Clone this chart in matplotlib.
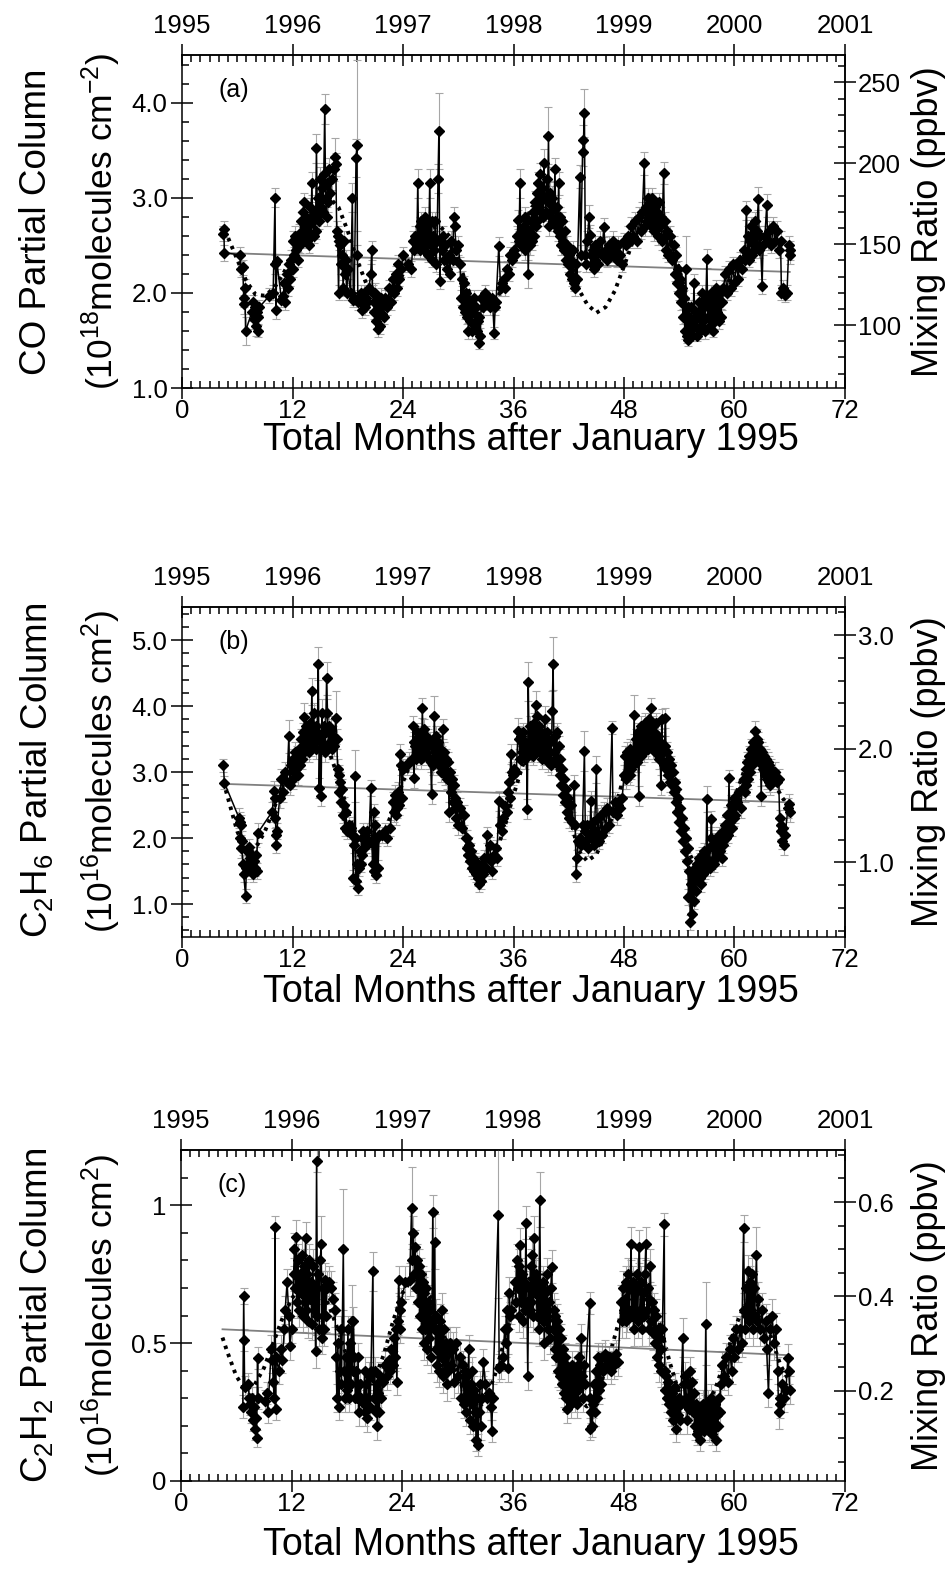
import matplotlib
matplotlib.use("Agg")
import matplotlib.pyplot as plt
from matplotlib.ticker import MultipleLocator, FixedLocator, FuncFormatter

plt.rcParams['font.family'] = ['Liberation Sans', 'DejaVu Sans']
plt.rcParams['mathtext.fontset'] = 'custom'
plt.rcParams['mathtext.rm'] = 'Liberation Sans'
plt.rcParams['mathtext.it'] = 'Liberation Sans:italic'
plt.rcParams['mathtext.bf'] = 'Liberation Sans:bold'

# ---------------- data ----------------
years = [1995, 1996, 1997, 1998, 1999, 2000, 2001]

# (a) CO partial column, 1e18 molecules cm^-2 : (month, value, error)
co_obs = [
 (4.5,2.62,.08),(4.55,2.67,.08),(4.6,2.42,.08),
 (6.3,2.40,.08),(6.4,2.25,.08),(6.6,2.27,.08),(6.7,1.95,.1),(6.75,1.88,.1),(6.85,2.05,.1),(6.9,1.60,.15),
 (7.6,1.80,.1),(7.7,1.90,.08),(7.8,1.72,.1),(7.9,1.85,.08),(8.0,1.65,.1),(8.1,1.80,.08),(8.2,1.60,.06),(8.3,1.75,.08),(8.4,1.85,.08),
 (9.5,1.97,.08),(9.9,2.00,.08),(10.1,3.00,.1),(10.15,2.30,.1),(10.2,1.82,.1),(10.3,2.33,.08),
 (10.8,1.93,.08),(11.0,1.97,.08),(11.1,2.10,.1),(11.2,1.90,.08),(11.4,2.20,.1),(11.5,2.05,.08),(11.6,2.30,.1),(11.7,2.15,.08),(11.8,2.35,.1),(12.0,2.25,.08),
 (12.1,2.55,.1),(12.2,2.40,.08),(12.3,2.60,.1),(12.4,2.45,.08),(12.5,2.55,.1),(12.6,2.35,.08),(12.7,2.62,.1),(12.8,2.50,.08),(12.9,2.75,.1),(13.0,2.55,.08),
 (13.1,2.85,.12),(13.2,2.60,.08),(13.3,2.95,.1),(13.4,2.65,.08),(13.5,2.80,.1),(13.6,2.55,.08),(13.7,2.70,.1),(13.8,2.50,.08),(13.9,2.90,.1),(14.0,2.60,.08),
 (14.1,3.15,.12),(14.2,2.75,.1),(14.3,2.60,.08),(14.4,2.85,.1),(14.5,2.65,.08),(14.6,3.52,.15),(14.7,2.80,.1),(14.8,3.00,.1),(14.9,2.75,.08),(15.0,3.20,.12),
 (15.1,2.90,.1),(15.2,3.10,.1),(15.3,2.85,.1),(15.4,3.25,.12),(15.5,3.93,.16),(15.6,3.00,.1),(15.7,2.80,.1),(15.8,3.15,.12),(15.9,2.95,.1),(16.0,3.30,.12),
 (16.1,3.05,.1),(16.3,3.20,.12),(16.5,3.30,.12),(16.6,3.43,.2),(16.7,3.35,.12),(16.8,2.65,.1),(16.9,2.60,.1),(17.0,2.00,.08),(17.1,2.55,.1),(17.2,2.50,.1),
 (17.3,2.30,.1),(17.4,2.40,.1),(17.5,2.05,.08),(17.6,2.55,.1),(17.7,2.20,.1),(17.8,2.35,.1),(17.9,2.00,.08),(18.0,2.25,.1),
 (18.3,2.00,.08),(18.5,3.00,.15),(18.6,1.93,.08),(18.7,1.95,.08),(18.9,3.42,.2),(19.0,3.55,.9),(19.05,2.40,.1),(19.1,1.90,.08),
 (19.3,1.95,.08),(19.4,2.00,.08),(19.5,1.82,.08),(19.6,1.95,.08),(19.7,1.88,.08),(19.8,2.00,.08),(19.9,1.85,.08),(20.0,1.95,.08),(20.1,1.90,.08),(20.3,2.05,.08),
 (20.5,2.20,.1),(20.6,2.45,.1),(20.7,2.00,.08),(20.8,1.90,.08),(20.9,1.80,.08),(21.0,2.00,.1),(21.1,1.70,.08),(21.2,1.90,.08),(21.3,1.62,.08),(21.4,1.85,.08),
 (21.5,1.65,.08),(21.6,1.95,.1),(21.7,1.78,.08),(21.8,1.90,.08),(21.9,1.75,.08),(22.0,1.95,.08),
 (22.3,1.85,.08),(22.5,2.05,.08),(22.7,1.90,.08),(22.9,2.15,.08),(23.0,2.00,.08),(23.2,2.20,.08),(23.3,2.05,.08),(23.5,2.30,.1),(23.6,2.15,.08),(23.8,2.25,.08),(24.0,2.40,.08),
 (24.5,2.30,.08),(24.9,2.25,.08),(25.1,2.55,.1),(25.2,2.45,.08),(25.3,2.60,.1),(25.5,2.50,.1),(25.6,3.15,.15),(25.7,2.55,.1),(25.8,2.70,.1),(25.9,2.45,.08),
 (26.0,2.75,.1),(26.1,2.50,.08),(26.2,2.65,.1),(26.3,2.45,.08),(26.4,2.80,.1),(26.5,2.55,.08),(26.6,2.70,.1),(26.7,2.40,.08),(26.8,2.60,.1),(26.9,3.15,.15),
 (27.0,2.50,.1),(27.1,2.75,.1),(27.2,2.35,.08),(27.3,2.60,.1),(27.4,2.45,.08),(27.5,2.75,.1),(27.6,2.30,.08),(27.7,2.55,.1),(27.8,3.20,.15),(27.9,3.70,.4),
 (28.0,2.12,.08),(28.1,2.55,.1),(28.2,2.45,.08),(28.3,2.60,.1),(28.4,2.35,.08),(28.6,2.50,.1),(28.8,2.25,.08),(29.0,2.40,.1),(29.1,2.20,.08),(29.2,2.55,.1),
 (29.4,2.35,.08),(29.5,2.80,.1),(29.6,2.70,.1),(29.8,2.45,.08),(30.0,2.50,.1),
 (30.2,2.30,.08),(30.3,1.95,.08),(30.4,2.15,.08),(30.5,1.85,.08),(30.6,2.10,.08),(30.7,1.80,.08),(30.8,2.00,.08),(30.9,1.75,.08),(31.0,1.95,.08),(31.1,1.60,.08),
 (31.2,1.85,.08),(31.3,1.70,.08),(31.4,1.90,.08),(31.5,1.60,.08),(31.6,1.80,.08),(31.7,1.95,.08),(31.8,1.65,.08),(31.9,1.85,.08),(32.0,1.60,.08),(32.1,1.70,.08),
 (32.2,1.47,.06),(32.3,1.75,.08),(32.4,1.55,.08),(32.5,1.95,.08),
 (32.7,1.85,.08),(32.9,2.00,.08),(33.1,1.90,.08),(33.3,1.95,.08),(33.5,1.85,.08),(33.7,1.95,.08),(33.9,1.58,.06),(34.0,1.85,.08),(34.1,1.90,.08),
 (34.4,2.49,.1),(34.6,2.05,.08),(34.8,2.10,.08),(35.0,2.15,.08),(35.1,2.05,.08),(35.3,2.25,.08),(35.5,2.20,.08),(35.6,2.40,.08),(35.8,2.35,.08),(36.0,2.45,.08),(36.2,2.40,.08),
 (36.4,2.60,.1),(36.5,2.77,.1),(36.6,2.55,.1),(36.7,3.15,.15),(36.8,2.50,.1),(36.9,2.65,.1),(37.0,2.55,.1),(37.1,2.70,.1),(37.2,2.45,.1),(37.3,2.80,.1),
 (37.4,2.55,.1),(37.5,2.75,.1),(37.6,2.20,.15),(37.7,2.65,.1),(37.8,2.50,.1),(37.9,2.75,.1),(38.0,2.55,.1),(38.1,2.85,.1),(38.2,2.60,.1),(38.3,2.95,.12),
 (38.4,2.70,.1),(38.5,3.05,.12),(38.6,2.75,.1),(38.7,3.15,.12),(38.8,2.90,.1),(38.9,3.25,.12),(39.0,2.85,.1),(39.1,3.10,.12),(39.2,2.80,.1),(39.3,3.36,.15),
 (39.4,3.00,.12),(39.5,2.85,.1),(39.6,3.20,.12),(39.7,2.95,.1),(39.8,3.65,.3),(39.9,2.70,.1),(40.0,3.05,.12),(40.1,2.80,.1),(40.2,3.00,.12),(40.3,2.75,.1),
 (40.4,2.90,.1),(40.5,3.30,.12),(40.6,2.70,.1),(40.7,2.90,.1),(40.8,2.65,.1),(40.9,3.15,.12),(41.0,2.60,.1),(41.1,2.80,.1),(41.2,2.50,.1),(41.3,2.75,.1),
 (41.4,2.55,.1),(41.5,2.45,.1),(41.6,2.65,.1),(41.7,2.35,.08),(41.8,2.50,.1),(41.9,2.30,.08),(42.0,2.40,.08),(42.1,2.20,.08),(42.2,2.35,.08),(42.3,2.15,.08),
 (42.4,2.30,.08),(42.5,2.45,.1),(42.6,2.10,.08),(42.7,2.05,.08),(42.8,2.30,.08),(42.9,2.15,.08),
 (43.2,3.22,.12),(43.3,2.40,.1),(43.5,3.48,.15),(43.6,3.61,.15),(43.7,3.89,.25),(43.8,2.40,.1),(43.9,2.30,.08),(44.0,2.55,.1),
 (44.2,2.80,.12),(44.3,2.61,.1),(44.4,2.40,.08),(44.5,2.30,.08),(44.6,2.45,.1),(44.7,2.25,.08),(44.8,2.50,.1),(44.9,2.35,.08),(45.0,2.45,.1),(45.2,2.30,.08),
 (45.4,2.55,.1),(45.6,2.40,.08),(45.8,2.69,.1),(46.0,2.45,.1),(46.2,2.35,.08),(46.4,2.50,.1),(46.6,2.40,.08),(46.8,2.55,.1),(47.0,2.45,.08),(47.2,2.35,.08),
 (47.4,2.50,.1),(47.6,2.40,.08),(47.8,2.30,.08),
 (48.0,2.55,.08),(48.2,2.50,.08),(48.4,2.60,.1),(48.6,2.55,.08),(48.8,2.70,.1),(49.0,2.60,.08),(49.2,2.75,.1),(49.4,2.55,.08),(49.6,2.80,.1),(49.8,2.65,.08),
 (50.0,2.85,.1),(50.2,3.36,.12),(50.3,2.70,.1),(50.4,2.90,.1),(50.5,2.75,.1),(50.6,3.00,.1),(50.7,2.80,.1),(50.8,2.95,.1),(50.9,2.70,.1),(51.0,3.00,.1),
 (51.1,2.75,.1),(51.2,2.95,.1),(51.3,2.65,.1),(51.4,2.90,.1),(51.5,2.75,.1),(51.6,2.85,.1),(51.7,2.60,.1),(51.8,2.95,.1),(51.9,2.70,.1),(52.0,2.80,.1),
 (52.1,2.55,.1),(52.3,3.26,.12),(52.4,2.60,.1),(52.5,2.75,.1),(52.6,2.45,.08),(52.7,2.65,.1),(52.8,2.40,.08),(53.0,2.60,.1),(53.2,2.35,.08),(53.4,2.50,.1),
 (53.5,2.20,.08),(53.6,2.40,.08),
 (53.8,2.10,.08),(53.9,2.25,.08),(54.0,2.00,.08),(54.1,2.15,.08),(54.2,1.90,.08),(54.3,2.05,.08),(54.4,1.75,.08),(54.5,1.95,.08),(54.6,1.60,.08),(54.7,2.25,.35),
 (54.8,1.55,.08),(54.9,1.85,.08),(55.0,1.50,.06),(55.1,1.75,.08),(55.2,1.60,.08),(55.3,1.85,.08),(55.4,1.55,.06),(55.5,1.70,.08),(55.6,2.10,.1),(55.7,1.65,.08),
 (55.8,1.80,.08),(55.9,1.55,.06),(56.0,1.75,.08),(56.1,1.90,.08),(56.2,1.60,.08),(56.3,1.80,.08),(56.4,1.65,.08),(56.5,2.00,.08),(56.6,1.70,.08),(56.7,1.85,.08),
 (56.8,1.60,.08),(56.9,1.95,.08),(57.0,2.36,.1),(57.1,1.75,.08),(57.2,1.90,.08),(57.3,1.65,.08),(57.4,2.00,.08),(57.5,1.75,.08),(57.6,1.85,.08),(57.7,1.60,.06),
 (57.8,1.95,.08),(57.9,1.70,.08),(58.0,2.05,.08),(58.1,1.80,.08),(58.2,1.95,.08),(58.3,1.70,.08),(58.4,2.00,.08),(58.5,1.75,.08),(58.6,1.90,.08),
 (58.8,2.05,.08),(59.0,2.20,.08),(59.2,2.00,.08),(59.4,2.25,.08),(59.6,2.05,.08),(59.8,2.30,.08),(60.0,2.10,.08),(60.2,2.30,.08),(60.4,2.15,.08),(60.6,2.35,.08),
 (60.8,2.25,.08),(61.0,2.45,.1),(61.1,2.35,.08),(61.3,2.87,.1),(61.4,2.40,.08),(61.5,2.60,.1),(61.6,2.35,.08),(61.7,2.55,.1),(61.8,2.70,.1),(61.9,2.40,.08),
 (62.0,2.60,.1),(62.1,2.45,.08),(62.2,2.75,.1),(62.3,2.50,.08),(62.4,2.65,.1),(62.6,2.99,.12),(62.7,2.45,.08),(62.8,2.60,.1),(63.0,2.07,.08),(63.1,2.50,.1),
 (63.3,2.60,.1),(63.5,2.92,.12),(63.6,2.55,.1),(63.8,2.65,.1),(64.0,2.50,.08),(64.2,2.70,.1),(64.4,2.55,.08),(64.6,2.65,.1),(64.8,2.45,.08),(65.0,2.55,.1),
 (65.1,2.00,.08),(65.3,2.05,.08),(65.5,1.98,.08),(65.7,2.00,.08),(65.9,2.50,.1),(66.0,2.40,.1),(66.05,2.45,.1),
]
co_month, co_value, co_error = map(list, zip(*co_obs))

fit_month = [4.5, 5, 6, 7, 8, 9, 10, 11, 12, 13, 14, 15, 16, 17, 18, 19, 20, 21, 22, 23, 24,
             25, 26, 27, 28, 29, 30, 31, 32, 33, 34, 35, 36, 37, 38, 39, 40, 41, 42, 43, 44,
             45, 46, 47, 48, 49, 50, 51, 52, 53, 54, 55, 56, 57, 58, 59, 60, 61, 62, 63, 64, 65, 66]
co_fit = [2.65, 2.58, 2.35, 2.12, 1.98, 1.97, 2.05, 2.2, 2.4, 2.6, 2.8, 2.95, 3.0, 2.9, 2.65, 2.35, 2.1, 1.95, 1.92, 2.0, 2.2,
          2.4, 2.55, 2.68, 2.7, 2.6, 2.35, 2.05, 1.85, 1.8, 1.9, 2.1, 2.4, 2.7, 2.9, 3.0, 2.95, 2.75, 2.45, 2.05, 1.88,
          1.79, 1.85, 2.02, 2.28, 2.55, 2.75, 2.85, 2.82, 2.6, 2.25, 1.9, 1.72, 1.72, 1.85, 2.05, 2.25, 2.45, 2.55, 2.55, 2.5, 2.45, 2.4]
trend_month = [4.5, 66.0]
co_trend = [2.42, 2.22]

# (b) C2H6 partial column, 1e16 molecules cm^-2
c2h6_obs = [
 (4.5,3.10,.1),(4.6,2.84,.1),
 (6.2,2.30,.15),(6.3,2.25,.15),(6.35,2.00,.15),(6.4,2.20,.15),(6.45,1.85,.15),(6.5,1.95,.15),(6.6,1.60,.15),(6.7,1.45,.12),(6.9,1.12,.1),
 (7.0,1.55,.12),(7.1,1.80,.12),(7.2,1.60,.12),(7.3,1.86,.12),(7.4,1.70,.12),(7.5,1.50,.12),(7.6,1.75,.12),(7.7,1.45,.12),(7.8,1.65,.12),(7.9,1.55,.12),(8.0,1.75,.12),(8.1,1.50,.12),(8.2,2.07,.15),
 (9.8,2.40,.15),(10.0,2.71,.15),(10.1,2.60,.15),(10.15,2.30,.15),(10.2,2.05,.12),(10.25,1.89,.12),(10.3,2.10,.12),
 (10.6,2.60,.15),(10.8,2.90,.15),(11.0,2.70,.15),(11.2,3.00,.15),(11.4,2.85,.15),(11.6,3.54,.25),(11.7,2.80,.15),(11.8,3.10,.15),(12.0,2.90,.15),
 (12.1,3.20,.15),(12.2,3.00,.15),(12.3,3.30,.15),(12.4,3.05,.15),(12.5,3.25,.15),(12.6,2.95,.15),(12.7,3.35,.15),(12.8,3.10,.15),(12.9,3.50,.15),(13.0,3.20,.15),
 (13.1,3.60,.15),(13.2,3.30,.15),(13.3,3.84,.2),(13.4,3.40,.15),(13.5,3.70,.15),(13.6,3.35,.15),(13.7,3.60,.15),(13.8,3.30,.15),(13.9,3.75,.15),(14.0,3.40,.15),
 (14.1,4.22,.2),(14.2,3.50,.15),(14.3,3.90,.15),(14.4,3.45,.15),(14.5,3.70,.15),(14.6,3.35,.15),(14.7,3.60,.15),(14.8,4.64,.25),(14.9,2.76,.15),(15.0,3.50,.15),
 (15.1,2.64,.15),(15.2,3.90,.2),(15.3,3.40,.15),(15.4,3.70,.15),(15.5,3.30,.15),(15.6,3.60,.15),(15.7,4.42,.25),(15.8,3.90,.2),(15.9,3.40,.15),(16.0,3.70,.15),
 (16.1,3.45,.15),(16.2,3.65,.15),(16.3,3.35,.15),(16.4,3.55,.15),(16.5,3.40,.15),(16.7,3.82,.4),(16.8,3.50,.15),(16.9,3.05,.15),(17.0,2.95,.15),(17.1,2.70,.15),
 (17.2,2.85,.15),(17.3,2.55,.15),(17.4,2.75,.15),(17.5,2.35,.12),(17.6,2.50,.12),(17.7,2.15,.12),(17.8,2.40,.12),(17.9,2.10,.12),
 (18.1,2.20,.12),(18.3,2.15,.12),(18.5,2.05,.12),(18.6,1.40,.12),(18.7,1.90,.12),(18.8,2.94,.4),(18.85,2.00,.12),(18.9,1.35,.1),(19.0,1.60,.12),(19.1,1.24,.1),
 (19.2,1.55,.12),(19.3,1.80,.12),(19.4,1.60,.12),(19.5,2.00,.12),(19.6,1.75,.12),(19.7,2.10,.12),(19.8,1.85,.12),(19.9,2.05,.12),(20.0,1.90,.12),(20.1,2.10,.12),
 (20.3,1.95,.12),(20.5,2.76,.12),(20.6,1.95,.12),(20.7,1.60,.12),(20.8,2.40,.12),(20.9,1.50,.12),(21.0,2.20,.12),(21.1,1.44,.12),(21.2,2.00,.12),(21.3,1.55,.12),(21.4,2.05,.12),
 (21.7,2.05,.12),(22.0,2.10,.12),(22.3,2.00,.12),(22.6,2.15,.12),(22.9,2.55,.15),(23.0,2.40,.15),(23.1,2.65,.15),(23.2,2.35,.15),(23.3,2.60,.15),(23.4,2.45,.15),
 (23.5,2.70,.15),(23.6,2.50,.15),(23.7,3.27,.15),(23.8,3.10,.15),(23.9,2.60,.15),(24.0,3.05,.15),
 (24.4,3.10,.15),(24.7,3.15,.15),(25.0,3.20,.15),(25.1,3.70,.15),(25.15,3.45,.15),(25.2,2.91,.15),(25.3,3.40,.15),(25.4,3.20,.15),(25.5,3.60,.15),(25.6,3.30,.15),
 (25.7,3.55,.15),(25.8,3.25,.15),(25.9,3.50,.15),(26.0,3.20,.15),(26.1,3.97,.15),(26.2,3.40,.15),(26.3,3.65,.15),(26.4,3.30,.15),(26.5,3.55,.15),(26.6,3.25,.15),
 (26.7,3.50,.15),(26.8,3.20,.15),(26.9,3.45,.15),(27.0,3.15,.15),(27.1,2.67,.15),(27.2,3.40,.15),(27.3,3.10,.15),(27.4,3.85,.3),(27.5,3.30,.15),(27.6,3.55,.15),
 (27.7,3.20,.15),(27.8,3.45,.15),(27.9,3.10,.15),(28.0,3.35,.15),(28.1,3.00,.15),(28.2,3.25,.15),(28.3,3.65,.15),(28.4,3.10,.15),(28.5,3.30,.15),(28.6,2.95,.15),
 (28.7,3.20,.15),(28.8,2.90,.15),(28.9,3.15,.15),(29.0,2.40,.15),(29.1,3.00,.15),(29.2,2.70,.15),(29.3,2.90,.15),(29.4,2.55,.15),(29.5,2.80,.15),(29.6,2.45,.15),
 (29.7,2.60,.15),(29.8,2.30,.15),(29.9,2.55,.15),(30.0,2.20,.15),(30.2,2.45,.15),(30.4,2.15,.15),(30.6,2.35,.15),(30.8,2.00,.12),(30.9,1.85,.12),(31.0,2.00,.12),
 (31.1,1.75,.12),(31.2,1.90,.12),(31.3,1.65,.12),(31.4,1.80,.12),(31.5,1.55,.12),(31.6,1.70,.12),(31.7,1.50,.12),(31.8,1.65,.12),(31.9,1.45,.12),(32.0,1.60,.12),
 (32.1,1.40,.12),(32.2,1.55,.12),(32.3,1.30,.12),(32.4,1.50,.12),(32.5,1.35,.12),(32.6,1.60,.12),(32.7,1.45,.12),(32.8,1.70,.12),(33.0,1.55,.12),(33.1,2.05,.12),
 (33.2,1.70,.12),(33.4,1.90,.12),(33.6,1.65,.12),(33.7,1.50,.12),(33.9,1.75,.12),(34.1,1.85,.12),(34.2,1.70,.12),
 (34.4,2.56,.15),(34.5,2.20,.12),(34.7,2.10,.12),(34.9,2.30,.12),(35.1,2.49,.15),(35.3,2.40,.15),(35.4,2.70,.15),(35.5,2.85,.15),(35.6,2.60,.15),(35.7,3.27,.15),
 (35.8,3.00,.15),(35.9,2.95,.15),(36.1,3.05,.15),(36.3,3.00,.15),(36.5,3.62,.2),(36.6,3.50,.15),(36.7,3.20,.15),(36.8,3.55,.15),(36.9,3.30,.15),(37.0,3.60,.15),
 (37.1,3.25,.15),(37.2,3.45,.15),(37.3,3.20,.15),(37.4,3.40,.15),(37.5,2.44,.15),(37.6,4.37,.3),(37.7,3.40,.15),(37.8,3.70,.15),(37.9,3.30,.15),(38.0,3.60,.15),
 (38.1,3.25,.15),(38.2,3.75,.15),(38.3,3.40,.15),(38.4,4.02,.2),(38.5,3.50,.15),(38.6,3.85,.2),(38.7,3.40,.15),(38.8,3.70,.15),(38.9,3.30,.15),(39.0,3.60,.15),
 (39.1,3.20,.15),(39.2,3.55,.15),(39.3,3.25,.15),(39.4,3.80,.2),(39.5,3.35,.15),(39.6,3.60,.15),(39.7,3.15,.15),(39.8,3.50,.15),(39.9,3.20,.15),(40.0,3.45,.15),
 (40.1,3.10,.15),(40.2,3.92,.3),(40.3,4.64,.4),(40.4,3.30,.15),(40.5,3.55,.15),(40.6,3.20,.15),(40.7,3.60,.15),(40.8,3.10,.15),(40.9,3.40,.15),(41.0,2.95,.15),
 (41.1,3.20,.15),(41.2,2.80,.15),(41.3,3.05,.15),(41.4,2.65,.15),(41.5,2.90,.15),(41.6,2.55,.15),(41.7,2.75,.15),(41.8,2.40,.15),(41.9,2.60,.15),(42.0,2.30,.15),
 (42.2,2.50,.15),(42.4,2.25,.15),(42.6,2.80,.15),(42.7,2.20,.15),(42.8,1.46,.12),(42.9,1.70,.12),(43.0,1.95,.12),(43.2,2.00,.12),(43.3,1.90,.12),(43.5,2.20,.15),
 (43.7,3.32,.3),(43.8,2.10,.15),(43.9,1.95,.12),(44.0,2.20,.15),(44.1,1.85,.12),(44.3,2.05,.12),(44.4,2.56,.15),(44.5,2.00,.12),(44.6,2.25,.15),(44.7,1.90,.12),
 (44.8,2.10,.12),(45.0,3.04,.2),(45.1,2.00,.12),(45.2,2.30,.15),(45.3,1.95,.12),(45.5,2.35,.15),(45.6,2.05,.12),(45.8,2.40,.15),(46.0,2.15,.12),(46.2,2.45,.15),
 (46.4,2.20,.12),(46.7,3.67,.1),(46.8,2.40,.15),(47.0,2.55,.15),(47.2,2.35,.15),(47.4,2.50,.15),(47.6,2.45,.15),(47.8,2.60,.15),
 (48.0,2.95,.15),(48.1,3.25,.15),(48.2,2.90,.15),(48.3,3.30,.15),(48.4,3.00,.15),(48.5,3.20,.15),(48.6,2.95,.15),(48.7,3.35,.15),(48.8,3.05,.15),(48.9,3.30,.15),
 (49.0,3.10,.15),(49.1,3.87,.3),(49.2,3.20,.15),(49.3,3.50,.15),(49.4,3.15,.15),(49.5,3.60,.15),(49.6,2.64,.15),(49.7,3.55,.15),(49.8,3.25,.15),(49.9,3.70,.15),
 (50.0,3.35,.15),(50.1,3.60,.15),(50.2,3.30,.15),(50.3,3.75,.15),(50.4,3.40,.15),(50.5,3.65,.15),(50.6,3.35,.15),(50.7,3.80,.15),(50.8,3.45,.15),(50.9,3.97,.15),
 (51.0,3.50,.15),(51.1,3.70,.15),(51.2,3.35,.15),(51.3,3.60,.15),(51.4,3.30,.15),(51.5,3.75,.15),(51.6,3.40,.15),(51.7,3.55,.15),(51.8,3.20,.15),(51.9,3.45,.15),
 (52.0,2.80,.15),(52.1,3.80,.15),(52.2,3.30,.15),(52.3,3.10,.15),(52.4,3.40,.15),(52.5,3.82,.15),(52.6,3.05,.15),(52.7,3.30,.15),(52.8,2.95,.15),(52.9,3.20,.15),
 (53.0,2.85,.15),(53.1,3.10,.15),(53.2,2.80,.15),(53.3,3.00,.15),(53.4,2.70,.15),(53.5,2.85,.15),(53.6,2.55,.15),(53.7,2.75,.15),(53.8,2.40,.15),(53.9,2.60,.15),
 (54.0,2.25,.15),(54.1,2.45,.15),(54.2,2.10,.15),(54.3,2.30,.15),(54.4,1.95,.12),(54.5,2.15,.12),(54.6,1.80,.12),(54.7,2.00,.12),(54.8,1.65,.12),(54.9,1.85,.12),
 (55.0,1.10,.12),(55.1,1.50,.12),(55.2,0.72,.12),(55.3,1.30,.12),(55.4,0.85,.12),(55.5,1.40,.12),(55.6,1.05,.12),(55.7,1.55,.12),(55.8,1.20,.12),(55.9,1.60,.12),
 (56.0,1.35,.12),(56.1,1.70,.12),(56.2,1.40,.12),(56.3,1.65,.12),(56.4,1.30,.12),(56.5,1.75,.12),(56.6,1.45,.12),(56.7,1.80,.12),(56.8,1.50,.12),(56.9,1.70,.12),
 (57.0,2.59,.2),(57.1,1.60,.12),(57.2,1.85,.12),(57.3,1.55,.12),(57.4,2.00,.12),(57.5,2.29,.12),(57.6,1.65,.12),(57.7,1.90,.12),(57.8,1.60,.12),(57.9,1.95,.12),
 (58.0,1.70,.12),(58.1,2.00,.12),(58.2,1.75,.12),(58.3,2.05,.12),(58.4,1.80,.12),(58.5,1.95,.12),(58.6,1.70,.12),(58.7,2.10,.12),(58.8,1.90,.12),(59.0,2.20,.12),
 (59.1,2.00,.12),(59.2,2.35,.12),(59.3,2.05,.12),(59.4,2.91,.12),(59.5,2.25,.12),(59.6,2.50,.15),(59.7,2.15,.12),(59.8,2.45,.15),(59.9,2.30,.12),(60.0,2.60,.15),
 (60.1,2.35,.12),(60.3,2.55,.15),(60.5,2.70,.15),(60.7,2.45,.15),(60.8,2.75,.15),(61.0,2.90,.15),(61.1,2.70,.15),(61.2,3.05,.15),(61.3,2.80,.15),(61.4,3.15,.15),
 (61.5,2.90,.15),(61.6,3.25,.15),(61.7,3.00,.15),(61.8,3.35,.15),(61.9,3.10,.15),(62.0,3.45,.15),(62.1,3.20,.15),(62.2,3.62,.15),(62.3,3.30,.15),(62.4,3.50,.15),
 (62.5,3.25,.15),(62.6,3.45,.15),(62.7,3.15,.15),(62.8,3.35,.15),(62.9,2.64,.15),(63.0,3.30,.15),(63.1,3.05,.15),(63.2,3.25,.15),(63.3,2.95,.15),(63.4,3.20,.15),
 (63.5,2.90,.15),(63.6,3.15,.15),(63.7,2.85,.15),(63.8,3.10,.15),(63.9,2.80,.15),(64.0,3.05,.15),(64.2,2.90,.15),(64.4,3.00,.15),(64.6,2.85,.15),(64.8,2.90,.15),
 (64.9,2.30,.12),(65.0,2.10,.12),(65.1,2.20,.12),(65.2,1.95,.12),(65.3,2.15,.12),(65.4,1.89,.15),(65.5,2.05,.12),
 (65.8,2.45,.15),(65.9,2.52,.15),(66.0,2.40,.15),
]
c2h6_month, c2h6_value, c2h6_error = map(list, zip(*c2h6_obs))
c2h6_fit = [2.85, 2.6, 2.1, 1.8, 1.85, 2.1, 2.45, 2.85, 3.2, 3.45, 3.55, 3.5, 3.3, 2.9, 2.4, 2.0, 1.85, 1.9, 2.1, 2.45, 2.85,
            3.2, 3.4, 3.45, 3.3, 2.95, 2.45, 1.95, 1.6, 1.55, 1.75, 2.15, 2.65, 3.1, 3.4, 3.5, 3.35, 2.95, 2.4, 1.82, 1.65,
            1.75, 2.05, 2.42, 2.95, 3.3, 3.5, 3.5, 3.3, 2.9, 2.35, 1.8, 1.5, 1.5, 1.75, 2.15, 2.6, 3.0, 3.25, 3.2, 2.95, 2.65, 2.45]
c2h6_trend = [2.82, 2.54]

# (c) C2H2 partial column, 1e16 molecules cm^-2
c2h2_obs = [
 (6.7,0.27,.04),(6.8,0.67,.03),(6.85,0.51,.04),(6.9,0.34,.04),
 (7.3,0.35,.04),(7.4,0.30,.04),(7.5,0.28,.04),(7.6,0.25,.04),(7.7,0.30,.04),(7.8,0.22,.04),(7.9,0.27,.04),(8.0,0.19,.04),(8.1,0.23,.04),(8.2,0.155,.03),(8.3,0.445,.04),(8.35,0.30,.04),
 (9.1,0.29,.04),(9.3,0.32,.04),(9.4,0.25,.04),
 (9.8,0.48,.05),(9.9,0.44,.05),(10.0,0.36,.05),(10.1,0.30,.05),(10.2,0.92,.04),(10.25,0.26,.04),(10.3,0.45,.05),
 (10.6,0.40,.05),(10.8,0.48,.05),(11.0,0.44,.05),(11.2,0.55,.05),(11.3,0.62,.05),(11.5,0.72,.05),(11.7,0.60,.05),(11.8,0.49,.05),(12.0,0.55,.05),
 (12.2,0.75,.06),(12.3,0.84,.06),(12.4,0.70,.06),(12.5,0.886,.06),(12.6,0.65,.06),(12.7,0.80,.06),(12.8,0.62,.06),(12.9,0.75,.06),(13.0,0.68,.06),(13.1,0.82,.06),
 (13.2,0.60,.06),(13.3,0.78,.06),(13.4,0.65,.06),(13.5,0.88,.06),(13.6,0.62,.06),(13.7,0.75,.06),(13.8,0.58,.06),(13.9,0.80,.06),(14.0,0.66,.06),(14.1,0.72,.06),
 (14.2,0.57,.06),(14.3,0.78,.06),(14.4,0.62,.06),(14.5,0.70,.06),(14.6,0.47,.06),(14.7,1.16,.04),(14.8,0.60,.06),(14.9,0.75,.06),(15.0,0.55,.06),(15.1,0.80,.06),
 (15.2,0.86,.1),(15.3,0.52,.06),(15.4,0.70,.06),(15.5,0.55,.06),(15.6,0.73,.06),(15.7,0.60,.06),(15.8,0.70,.06),(16.0,0.72,.06),(16.3,0.70,.06),(16.5,0.66,.06),(16.7,0.62,.06),
 (16.8,0.45,.05),(16.9,0.30,.05),(17.0,0.50,.05),(17.1,0.27,.05),(17.2,0.40,.05),(17.3,0.55,.05),(17.4,0.35,.05),(17.6,0.84,.22),(17.7,0.40,.05),(17.8,0.30,.05),
 (17.9,0.45,.05),(18.0,0.33,.05),(18.1,0.55,.05),(18.2,0.30,.05),(18.3,0.50,.05),(18.4,0.35,.05),(18.5,0.58,.13),(18.6,0.40,.05),(18.7,0.58,.05),(18.8,0.45,.05),
 (18.9,0.30,.05),(19.0,0.40,.05),(19.1,0.30,.05),(19.2,0.45,.05),(19.3,0.25,.05),(19.4,0.35,.05),(19.5,0.30,.05),
 (19.8,0.28,.05),(19.9,0.40,.05),(20.0,0.25,.05),(20.1,0.35,.05),(20.2,0.228,.05),(20.3,0.30,.05),(20.4,0.38,.05),(20.5,0.27,.05),(20.6,0.40,.05),(20.8,0.76,.07),
 (20.9,0.30,.05),(21.0,0.40,.05),(21.1,0.25,.05),(21.2,0.35,.05),(21.3,0.20,.05),(21.4,0.32,.05),(21.5,0.25,.05),(21.6,0.38,.05),(21.7,0.30,.05),
 (21.9,0.36,.05),(22.1,0.42,.05),(22.3,0.38,.05),(22.5,0.44,.05),(22.7,0.40,.05),(22.8,0.48,.05),(23.0,0.42,.05),(23.1,0.52,.05),(23.2,0.45,.05),(23.3,0.55,.05),
 (23.4,0.36,.05),(23.5,0.58,.05),(23.6,0.73,.05),(23.7,0.62,.05),(23.8,0.55,.05),(23.9,0.65,.05),
 (24.3,0.72,.06),(24.8,0.73,.06),(25.0,0.99,.15),(25.1,0.80,.06),(25.2,0.90,.06),(25.3,0.75,.06),(25.4,0.85,.06),(25.5,0.70,.06),(25.6,0.80,.06),(25.7,0.65,.06),
 (25.8,0.78,.06),(25.9,0.60,.06),(26.0,0.75,.06),(26.1,0.55,.06),(26.2,0.72,.06),(26.3,0.50,.06),(26.4,0.68,.06),(26.5,0.55,.06),(26.6,0.70,.06),(26.7,0.48,.06),
 (26.8,0.65,.06),(26.9,0.52,.06),(27.0,0.62,.06),(27.1,0.45,.06),(27.2,0.58,.06),(27.3,0.976,.06),(27.4,0.55,.06),(27.5,0.867,.1),(27.6,0.48,.06),(27.7,0.60,.06),
 (27.8,0.42,.06),(27.9,0.55,.06),(28.0,0.40,.06),(28.1,0.58,.06),(28.2,0.45,.06),(28.3,0.62,.06),(28.4,0.38,.06),(28.5,0.55,.06),(28.6,0.40,.06),(28.7,0.50,.06),
 (28.8,0.35,.06),(28.9,0.48,.06),(29.0,0.40,.06),(29.2,0.50,.06),(29.3,0.42,.06),(29.5,0.48,.06),(29.6,0.36,.06),(29.8,0.50,.06),(30.0,0.38,.06),(30.2,0.45,.06),
 (30.4,0.30,.05),(30.6,0.42,.05),(30.7,0.28,.05),(30.8,0.40,.05),(30.9,0.25,.05),(31.0,0.38,.05),(31.1,0.30,.05),(31.2,0.48,.05),(31.3,0.22,.05),(31.4,0.35,.05),
 (31.5,0.28,.05),(31.6,0.40,.05),(31.7,0.20,.05),(31.8,0.33,.05),(31.9,0.25,.05),(32.0,0.15,.04),(32.1,0.30,.05),(32.2,0.13,.04),(32.3,0.25,.05),(32.4,0.35,.05),
 (32.5,0.20,.05),(32.6,0.30,.05),
 (32.8,0.43,.05),(33.0,0.35,.05),(33.2,0.30,.05),(33.4,0.32,.05),(33.6,0.27,.05),(33.7,0.18,.04),(33.8,0.30,.05),
 (34.4,0.965,.3),(34.5,0.41,.05),(34.7,0.42,.05),(34.9,0.45,.05),(35.1,0.55,.05),(35.2,0.50,.05),(35.3,0.62,.05),(35.4,0.55,.05),(35.5,0.41,.05),(35.6,0.68,.06),
 (35.7,0.60,.05),(35.8,0.62,.05),
 (36.2,0.72,.06),(36.3,0.65,.06),(36.4,0.80,.06),(36.5,0.70,.06),(36.6,0.78,.06),(36.7,0.60,.06),(36.8,0.856,.06),(36.9,0.65,.06),(37.0,0.75,.06),(37.1,0.58,.06),
 (37.2,0.72,.06),(37.3,0.62,.06),(37.4,0.936,.06),(37.5,0.65,.06),(37.6,0.38,.05),(37.7,0.70,.06),(37.8,0.62,.06),(37.9,0.78,.06),(38.0,0.65,.06),(38.1,0.82,.07),
 (38.2,0.60,.06),(38.3,0.88,.08),(38.4,0.68,.06),(38.5,0.75,.06),(38.6,0.60,.06),(38.7,0.72,.06),(38.8,0.55,.06),(38.9,1.02,.1),(39.0,0.62,.06),(39.1,0.70,.06),
 (39.2,0.58,.06),(39.3,0.72,.06),(39.4,0.50,.06),(39.5,0.68,.06),(39.6,0.58,.06),(39.7,0.75,.06),(39.8,0.55,.06),(39.9,0.65,.06),(40.0,0.52,.06),(40.1,0.70,.06),
 (40.2,0.777,.06),(40.3,0.55,.06),(40.4,0.62,.06),(40.5,0.48,.06),(40.6,0.60,.06),(40.7,0.45,.06),(40.8,0.58,.06),(40.9,0.40,.06),(41.0,0.55,.06),(41.1,0.38,.05),
 (41.2,0.52,.05),(41.3,0.35,.05),(41.4,0.48,.05),(41.5,0.32,.05),(41.6,0.45,.05),(41.7,0.30,.05),(41.8,0.42,.05),(41.9,0.26,.05),(42.0,0.40,.05),(42.1,0.30,.05),
 (42.2,0.38,.05),(42.3,0.28,.05),(42.4,0.42,.05),(42.5,0.32,.05),(42.6,0.40,.05),(42.7,0.30,.05),(42.8,0.38,.05),(42.9,0.28,.05),(43.0,0.42,.05),(43.1,0.33,.05),
 (43.2,0.45,.05),(43.3,0.35,.05),(43.4,0.518,.05),(43.5,0.38,.05),(43.6,0.30,.05),(43.7,0.42,.05),(43.8,0.35,.05),
 (44.3,0.645,.04),(44.35,0.30,.05),(44.4,0.19,.04),(44.5,0.25,.04),(44.6,0.20,.04),(44.7,0.28,.05),(44.8,0.35,.05),(44.9,0.25,.05),(45.0,0.40,.05),(45.1,0.30,.05),
 (45.2,0.45,.05),(45.3,0.33,.05),(45.4,0.42,.05),(45.5,0.35,.05),(45.6,0.45,.05),(45.8,0.40,.05),(46.0,0.46,.05),(46.2,0.42,.05),(46.4,0.44,.05),(46.6,0.40,.05),
 (46.8,0.45,.05),(47.0,0.42,.05),(47.2,0.46,.05),(47.4,0.43,.05),
 (47.7,0.65,.06),(47.8,0.58,.06),(47.9,0.70,.06),(48.0,0.62,.06),(48.1,0.66,.06),(48.2,0.58,.06),(48.3,0.72,.06),(48.4,0.60,.06),(48.5,0.75,.06),(48.6,0.62,.06),
 (48.7,0.70,.06),(48.8,0.86,.06),(48.9,0.60,.06),(49.0,0.72,.06),(49.1,0.55,.06),(49.2,0.68,.06),(49.3,0.60,.06),(49.4,0.75,.06),(49.5,0.58,.06),(49.6,0.70,.06),
 (49.7,0.85,.06),(49.8,0.62,.06),(49.9,0.72,.06),(50.0,0.55,.06),(50.1,0.68,.06),(50.2,0.60,.06),(50.3,0.75,.06),(50.4,0.86,.06),(50.5,0.62,.06),(50.6,0.70,.06),
 (50.7,0.55,.06),(50.8,0.66,.06),(50.9,0.78,.06),(51.0,0.58,.06),(51.1,0.65,.06),(51.2,0.535,.06),(51.3,0.62,.06),(51.4,0.50,.06),(51.5,0.60,.06),(51.6,0.45,.06),
 (51.7,0.55,.06),(51.8,0.42,.06),(51.9,0.52,.06),(52.0,0.40,.06),(52.1,0.48,.06),(52.2,0.55,.06),(52.4,0.93,.04),(52.45,0.40,.05),(52.5,0.33,.05),(52.6,0.38,.05),
 (52.7,0.30,.05),(52.8,0.36,.05),(52.9,0.28,.05),(53.0,0.33,.05),(53.1,0.25,.05),(53.2,0.32,.05),(53.3,0.22,.05),(53.4,0.30,.05),(53.5,0.26,.05),(53.6,0.34,.05),
 (53.7,0.19,.05),(53.8,0.28,.05),(53.9,0.24,.05),(54.0,0.30,.05),(54.1,0.22,.05),(54.2,0.28,.05),(54.4,0.52,.07),(54.5,0.35,.05),(54.6,0.28,.05),(54.7,0.38,.05),
 (54.8,0.30,.05),(54.9,0.22,.05),(55.0,0.35,.05),(55.1,0.26,.05),(55.2,0.40,.05),(55.3,0.28,.05),(55.4,0.36,.05),(55.5,0.25,.05),(55.6,0.32,.05),(55.7,0.20,.05),
 (55.8,0.28,.05),(55.9,0.17,.04),(56.0,0.25,.05),(56.1,0.18,.04),(56.2,0.27,.05),(56.3,0.15,.04),(56.4,0.24,.05),(56.5,0.20,.05),(56.6,0.28,.05),(56.7,0.18,.04),
 (56.8,0.26,.05),(56.9,0.57,.15),(57.0,0.22,.05),(57.1,0.28,.05),(57.2,0.18,.04),(57.3,0.25,.05),(57.4,0.20,.05),(57.5,0.30,.05),(57.6,0.17,.04),(57.7,0.26,.05),
 (57.8,0.19,.04),(57.9,0.28,.05),(58.0,0.15,.04),(58.1,0.24,.05),(58.2,0.20,.05),(58.3,0.30,.05),(58.4,0.25,.05),
 (58.5,0.35,.05),(58.7,0.42,.05),(58.9,0.38,.05),(59.1,0.45,.05),(59.3,0.36,.05),(59.5,0.48,.05),(59.7,0.40,.05),(59.9,0.52,.05),(60.0,0.45,.05),(60.2,0.55,.05),
 (60.4,0.48,.05),(60.6,0.55,.05),(60.8,0.50,.05),(61.0,0.916,.05),(61.1,0.62,.06),(61.2,0.55,.06),(61.3,0.70,.06),(61.4,0.60,.06),(61.5,0.76,.06),(61.6,0.58,.06),
 (61.7,0.72,.06),(61.8,0.62,.06),(61.9,0.75,.06),(62.0,0.55,.06),(62.1,0.70,.06),(62.2,0.60,.06),(62.4,0.82,.1),(62.5,0.58,.06),(62.6,0.66,.06),(62.8,0.55,.06),
 (63.0,0.62,.06),(63.2,0.52,.06),(63.4,0.58,.06),(63.5,0.48,.06),(63.7,0.318,.05),(63.9,0.55,.06),(64.1,0.60,.06),(64.3,0.50,.06),(64.5,0.55,.06),(64.7,0.40,.05),
 (64.8,0.25,.06),(64.9,0.30,.05),(65.0,0.28,.05),(65.2,0.35,.05),(65.4,0.30,.05),(65.6,0.33,.05),
 (65.8,0.445,.05),(65.9,0.40,.05),(66.0,0.33,.05),
]
c2h2_month, c2h2_value, c2h2_error = map(list, zip(*c2h2_obs))
c2h2_fit = [0.52, 0.47, 0.38, 0.33, 0.35, 0.41, 0.50, 0.59, 0.66, 0.71, 0.72, 0.70, 0.64, 0.55, 0.45, 0.38, 0.34, 0.37, 0.46, 0.58, 0.68,
            0.73, 0.72, 0.67, 0.58, 0.48, 0.38, 0.30, 0.26, 0.29, 0.38, 0.50, 0.62, 0.71, 0.74, 0.70, 0.61, 0.49, 0.38, 0.30, 0.27,
            0.30, 0.40, 0.52, 0.64, 0.71, 0.72, 0.67, 0.56, 0.43, 0.32, 0.26, 0.24, 0.27, 0.34, 0.44, 0.55, 0.63, 0.66, 0.62, 0.52, 0.42, 0.36]
c2h2_trend = [0.55, 0.456]

# column -> mixing ratio conversion (ppbv = slope * column + offset)
co_ppbv = (58.8, 2.3)
c2h6_ppbv = (0.5808, 0.0524)
c2h2_ppbv = (0.5843, 0.0091)

# ---------------- drawing ----------------
TICK_FS = 18.5
TAG_FS = 18
LABEL_FS = 27
YLAB_FS = 26.5
MAJ_LEN, MIN_LEN, TW = 16, 5, 1.1

fig = plt.figure(figsize=(9.5, 15.7), dpi=100)


def fmt_g(v, p):
    return f'{v:g}'


def draw_panel(rect, month, value, error, fit, trend, ylim, ymaj, ymin, yfmt,
               conv, rmaj, rmin, rfmt, tag, lab1, lab2, lab1_y, xlab_off):
    ax = fig.add_axes(rect)
    ax.errorbar(month, value, yerr=error, fmt='none', ecolor='#a6a6a6',
                elinewidth=0.8, capsize=3, capthick=0.8, zorder=1)
    ax.plot(fit_month, fit, color='black', lw=2.8, ls=(0, (0.9, 1.3)), zorder=2)
    ax.plot(trend_month, trend, color='#808080', lw=1.3, zorder=2.5)
    ax.plot(month, value, color='black', lw=1.1, marker='D', ms=4.6,
            mec='black', mfc='black', zorder=3)
    ax.set_xlim(0, 72)
    ax.set_ylim(*ylim)
    ax.xaxis.set_major_locator(MultipleLocator(12))
    ax.xaxis.set_minor_locator(MultipleLocator(1))
    ax.yaxis.set_major_locator(FixedLocator(ymaj))
    ax.yaxis.set_minor_locator(MultipleLocator(ymin))
    ax.yaxis.set_major_formatter(FuncFormatter(yfmt))
    ax.tick_params(which='major', direction='inout', length=MAJ_LEN, width=TW,
                   labelsize=TICK_FS, top=False, right=False)
    ax.tick_params(axis='x', which='major', pad=0)
    ax.tick_params(axis='y', which='major', pad=2.5)
    ax.tick_params(which='minor', direction='in', length=MIN_LEN, width=TW,
                   top=False, right=False)
    for s in ax.spines.values():
        s.set_linewidth(TW)

    slope, off = conv
    top = ax.secondary_xaxis('top', functions=(lambda m: 1995 + m / 12.0,
                                               lambda y: (y - 1995) * 12.0))
    top.xaxis.set_major_locator(FixedLocator(years))
    top.xaxis.set_minor_locator(MultipleLocator(1 / 12.0))
    top.xaxis.set_major_formatter(FuncFormatter(lambda v, p: f'{v:.0f}'))
    top.tick_params(which='major', direction='inout', length=MAJ_LEN, width=TW,
                    labelsize=TICK_FS, pad=4)
    top.tick_params(which='minor', direction='in', length=MIN_LEN, width=TW)
    top.spines['top'].set_linewidth(TW)

    right = ax.secondary_yaxis('right', functions=(lambda c: slope * c + off,
                                                   lambda p: (p - off) / slope))
    right.yaxis.set_major_locator(FixedLocator(rmaj))
    right.yaxis.set_minor_locator(MultipleLocator(rmin))
    right.yaxis.set_major_formatter(FuncFormatter(rfmt))
    right.tick_params(which='major', direction='inout', length=MAJ_LEN, width=TW,
                      labelsize=TICK_FS, pad=1)
    right.tick_params(which='minor', direction='in', length=MIN_LEN, width=TW)
    right.spines['right'].set_linewidth(TW)

    ax.text(0.055, 0.895, tag, transform=ax.transAxes, fontsize=TAG_FS,
            ha='left', va='center')

    l, b, w, h = rect
    yc = b + h / 2
    fig.text(531 / 950, b - xlab_off / 1570, 'Total Months after January 1995',
             fontsize=LABEL_FS, ha='center', va='center')
    fig.text(37 / 950, lab1_y, lab1, rotation=90, fontsize=YLAB_FS,
             ha='center', va='center')
    fig.text(101 / 950, yc, lab2, rotation=90, fontsize=YLAB_FS - 1,
             ha='center', va='center')
    fig.text(929 / 950, yc, 'Mixing Ratio (ppbv)', rotation=90,
             fontsize=YLAB_FS - 0.5, ha='center', va='center')
    return ax


f1 = lambda v, p: f'{v:.1f}'
f0 = lambda v, p: f'{v:.0f}'

draw_panel([182 / 950, 1 - 388 / 1570, 663 / 950, 333 / 1570],
           co_month, co_value, co_error, co_fit, co_trend,
           (1.0, 4.5), [1.0, 2.0, 3.0, 4.0], 0.2, f1,
           co_ppbv, [100, 150, 200, 250], 10, f0, '(a)',
           'CO Partial Column', '(10$^{18}$molecules cm$^{-2}$)', 1 - 222 / 1570, 52)

draw_panel([182 / 950, 1 - 937 / 1570, 663 / 950, 330 / 1570],
           c2h6_month, c2h6_value, c2h6_error, c2h6_fit, c2h6_trend,
           (0.5, 5.5), [1.0, 2.0, 3.0, 4.0, 5.0], 0.2, f1,
           c2h6_ppbv, [1.0, 2.0, 3.0], 0.2, f1, '(b)',
           'C$_2$H$_6$ Partial Column', '(10$^{16}$molecules cm$^{2}$)', 1 - 770 / 1570, 55)

draw_panel([181 / 950, 1 - 1481 / 1570, 664 / 950, 331 / 1570],
           c2h2_month, c2h2_value, c2h2_error, c2h2_fit, c2h2_trend,
           (0.0, 1.2), [0.0, 0.5, 1.0], 0.1, fmt_g,
           c2h2_ppbv, [0.2, 0.4, 0.6], 0.05, f1, '(c)',
           'C$_2$H$_2$ Partial Column', '(10$^{16}$molecules cm$^{2}$)', 1 - 1315 / 1570, 64)

fig.savefig('out.png', dpi=100)
